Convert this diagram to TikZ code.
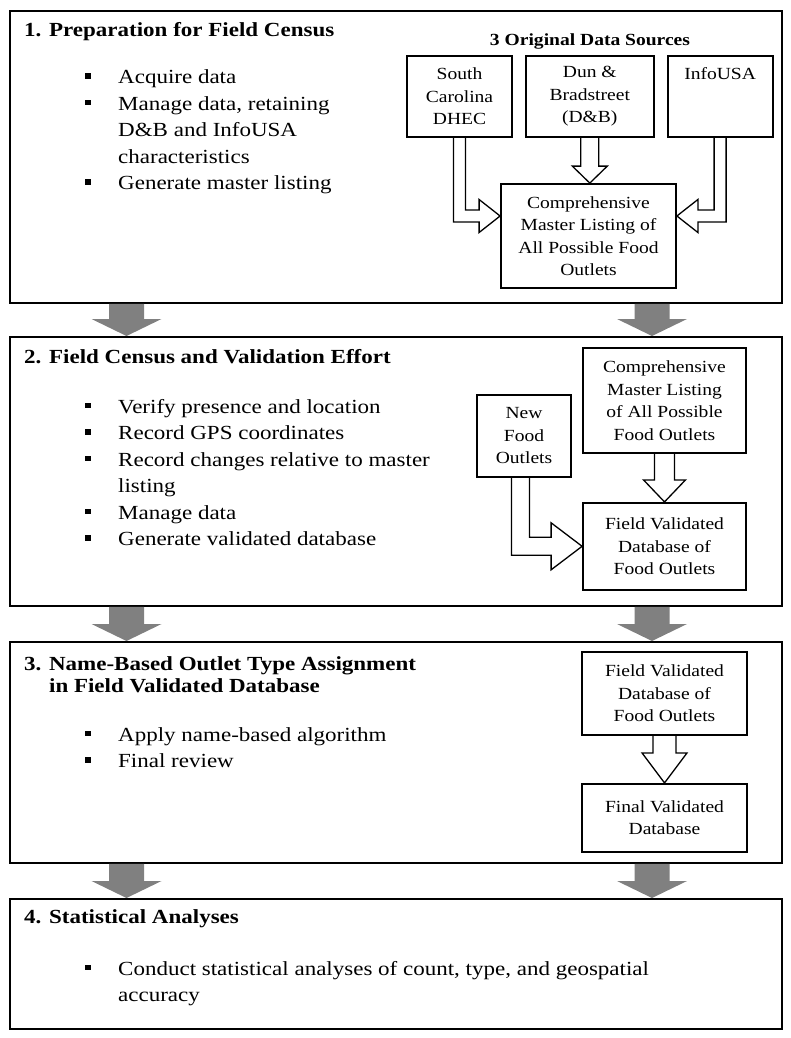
\documentclass[tikz,border=0pt]{standalone}
\usepackage{fontspec}
\setmainfont[FakeStretch=1.15]{Liberation Serif}
\usetikzlibrary{calc, positioning}

\newcommand{\sqbullet}{\rule[5pt]{5.5pt}{5.5pt}}

\begin{document}
\begin{tikzpicture}[x=1pt, y=-1pt,
		stage/.style={rectangle, draw, line width=1.8pt, minimum width=772pt, inner sep=0pt, anchor=north west},
		stagetitle/.style={anchor=base west, inner sep=0pt, font=\fontsize{20}{22}\selectfont\bfseries},
		bullets/.style={anchor=base west, inner sep=0pt, font=\fontsize{20}{26.5}\selectfont},
		smallbox/.style={rectangle, draw, line width=1.8pt, align=center, inner sep=0pt, font=\fontsize{17}{22.5}\selectfont},
		hollow/.style={draw, line width=1.3pt, line join=miter}
		]
		\useasboundingbox (0,0) rectangle (791,1038);

		% the four stages
		\node[stage, minimum height=292pt](stage1) at (9,10){};
		\node[stage, minimum height=269pt](stage2) at (9,336){};
		\node[stage, minimum height=221pt](stage3) at (9,641){};
		\node[stage, minimum height=130pt](stage4) at (9,898){};

		\node[stagetitle](title1) at (24,37){1. Preparation for Field Census};
		\node[stagetitle](title2) at (24,363){2. Field Census and Validation Effort};
		\node[stagetitle](title3) at (24,670){\begin{tabular}[t]{@{}l@{ }l@{}}3. & Name-Based Outlet Type Assignment\\ & in Field Validated Database\end{tabular}};
		\node[stagetitle](title4) at (24,923){4. Statistical Analyses};

		\node[bullets](list1) at (85,84){\begin{tabular}[t]{@{}p{33pt}@{}l@{}}
			\sqbullet & Acquire data\\
			\sqbullet & Manage data, retaining\\
			 & D\&B and InfoUSA\\
			 & characteristics\\
			\sqbullet & Generate master listing
		\end{tabular}};
		\node[bullets](list2) at (85,413){\begin{tabular}[t]{@{}p{33pt}@{}l@{}}
			\sqbullet & Verify presence and location\\
			\sqbullet & Record GPS coordinates\\
			\sqbullet & Record changes relative to master\\
			 & listing\\
			\sqbullet & Manage data\\
			\sqbullet & Generate validated database
		\end{tabular}};
		\node[bullets](list3) at (85,741){\begin{tabular}[t]{@{}p{33pt}@{}l@{}}
			\sqbullet & Apply name-based algorithm\\
			\sqbullet & Final review
		\end{tabular}};
		\node[bullets](list4) at (85,975){\begin{tabular}[t]{@{}p{33pt}@{}l@{}}
			\sqbullet & Conduct statistical analyses of count, type, and geospatial\\
			 & accuracy
		\end{tabular}};

		% stage 1 sources
		\node[anchor=base, inner sep=0pt, font=\fontsize{17}{20}\selectfont\bfseries](srctitle) at (590,46){3 Original Data Sources};
		\node[smallbox, minimum width=105pt, minimum height=81pt](sc) at (459.5,96.5){South\\Carolina\\DHEC};
		\node[smallbox, minimum width=128pt, minimum height=81pt, right=12pt of sc](dnb){Dun \&\\Bradstreet\\(D\&B)};
		\node[smallbox, minimum width=105pt, minimum height=81pt, right=12pt of dnb](info){InfoUSA\\\mbox{}\\\mbox{}};
		\node[smallbox, minimum width=175pt, minimum height=104pt](master1) at (588.5,236){Comprehensive\\Master Listing of\\All Possible Food\\Outlets};

		% stage 2 boxes
		\node[smallbox, minimum width=163pt, minimum height=105pt](cml2) at (664.5,400.5){Comprehensive\\Master Listing\\of All Possible\\Food Outlets};
		\node[smallbox, minimum width=163pt, minimum height=87pt, below=48pt of cml2](fvd2){Field Validated\\Database of\\Food Outlets};
		\node[smallbox, minimum width=94pt, minimum height=82pt](nfo) at (524,436){New\\Food\\Outlets};

		% stage 3 boxes
		\node[smallbox, minimum width=165pt, minimum height=83pt](fvd3) at (664.5,693.5){Field Validated\\Database of\\Food Outlets};
		\node[smallbox, minimum width=165pt, minimum height=68pt, below=47pt of fvd3](final){Final Validated\\Database};

		% hollow arrows
		\coordinate (d1) at (dnb.south |- master1.north);
		\draw[hollow] ($(dnb.south)+(-9,0)$) -- ($(d1)+(-9,-17)$) -- ($(d1)+(-17.5,-17)$) -- (d1)
			-- ($(d1)+(17.5,-17)$) -- ($(d1)+(9,-17)$) -- ($(dnb.south)+(9,0)$);

		\coordinate (s1) at ($(master1.west)+(0,-20)$);
		\coordinate (s2) at (sc.south |- s1);
		\draw[hollow] ($(sc.south)+(-6,0)$) -- ($(s2)+(-6,6)$) -- ($(s1)+(-21,6)$) -- ($(s1)+(-21,16.5)$) -- (s1)
			-- ($(s1)+(-21,-16.5)$) -- ($(s1)+(-21,-6)$) -- ($(s2)+(6,-6)$) -- ($(sc.south)+(6,0)$);

		\coordinate (i1) at ($(master1.east)+(0,-20)$);
		\coordinate (i2) at (info.south |- i1);
		\draw[hollow] ($(info.south)+(6,0)$) -- ($(i2)+(6,6)$) -- ($(i1)+(21,6)$) -- ($(i1)+(21,16.5)$) -- (i1)
			-- ($(i1)+(21,-16.5)$) -- ($(i1)+(21,-6)$) -- ($(i2)+(-6,-6)$) -- ($(info.south)+(-6,0)$);

		\coordinate (c1) at (cml2.south |- fvd2.north);
		\draw[hollow] ($(cml2.south)+(-10,0)$) -- ($(c1)+(-10,-22)$) -- ($(c1)+(-21,-22)$) -- (c1)
			-- ($(c1)+(21,-22)$) -- ($(c1)+(10,-22)$) -- ($(cml2.south)+(10,0)$);

		\coordinate (n1) at (fvd2.west);
		\coordinate (n2) at ($(nfo.south |- n1)+(-3.5,0)$);
		\draw[hollow] ($(nfo.south)+(-12.5,0)$) -- ($(n2)+(-9,9)$) -- ($(n1)+(-31,9)$) -- ($(n1)+(-31,23.5)$) -- (n1)
			-- ($(n1)+(-31,-23.5)$) -- ($(n1)+(-31,-9)$) -- ($(n2)+(9,-9)$) -- ($(nfo.south)+(5.5,0)$);

		\coordinate (f1) at (fvd3.south |- final.north);
		\draw[hollow] ($(fvd3.south)+(-11.5,0)$) -- ($(f1)+(-11.5,-30)$) -- ($(f1)+(-22.5,-30)$) -- (f1)
			-- ($(f1)+(22.5,-30)$) -- ($(f1)+(11.5,-30)$) -- ($(fvd3.south)+(11.5,0)$);

		% grey arrows between the stages
		\foreach \up/\down in {stage1/stage2, stage2/stage3, stage3/stage4}
		\foreach \gx in {126.5, 652}{
			\coordinate (gtop) at (\gx,0 |- \up.south);
			\coordinate (gtip) at (\gx,0 |- \down.north);
			\fill[gray] ($(gtop)+(-17.5,0)$) -- ($(gtip)+(-17.5,-17)$) -- ($(gtip)+(-35,-17)$) -- (gtip)
				-- ($(gtip)+(35,-17)$) -- ($(gtip)+(17.5,-17)$) -- ($(gtop)+(17.5,0)$) -- cycle;
		}

	\end{tikzpicture}
\end{document}
